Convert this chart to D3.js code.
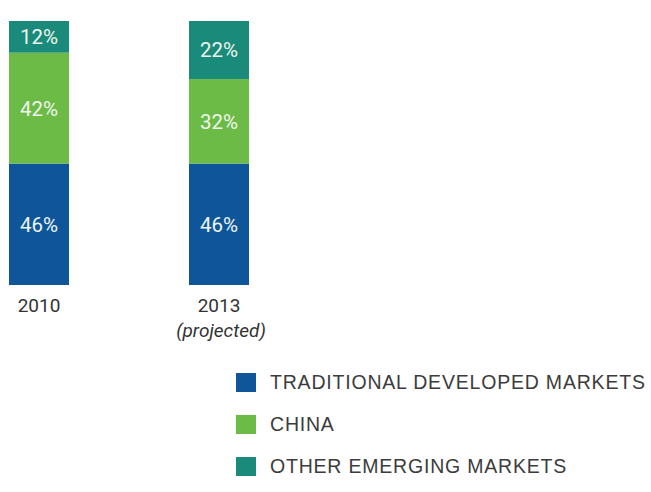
<!DOCTYPE html>
<html>
	<head>
		<title>Market share</title>
		<script src="https://d3js.org/d3.v7.min.js"></script>
		<style>
			body { margin: 0; background: #fff; }
			.seg-label { fill: #eef5ee; font-family: Roboto, "Liberation Sans", sans-serif; font-size: 20.5px; text-anchor: middle; }
			.year { fill: #333; font-family: Roboto, "Liberation Sans", sans-serif; font-size: 19px; text-anchor: middle; }
			.legend text { fill: #3c3c3c; font-family: "Liberation Sans", Arial, sans-serif; font-size: 19.5px; letter-spacing: 0.8px; }
		</style>
	</head>
	<body>
		<div class="chart"></div>
		<script>
			// data
			var years = ["2010", "2013"];
			var yearNotes = ["", "(projected)"];
			var seriesNames = ["TRADITIONAL DEVELOPED MARKETS", "CHINA", "OTHER EMERGING MARKETS"];
			var developed = [46, 46];
			var china = [42, 32];
			var otherEmerging = [12, 22];
			var colors = ["#0f559a", "#6cbb46", "#1a8a7a"];

			var width = 651, height = 492;

			var svg = d3.select(".chart").append("svg")
				.attr("width", width)
				.attr("height", height);

			var x = d3.scaleBand()
				.domain(years)
				.range([9, 249])
				.paddingInner(2 / 3)
				.paddingOuter(0);

			var y = d3.scaleLinear()
				.domain([0, 100])
				.range([285, 21]);

			var rows = years.map(function(yr, i) {
				return { year: yr, developed: developed[i], china: china[i], other: otherEmerging[i] };
			});

			var stack = d3.stack().keys(["developed", "china", "other"]);
			var layers = stack(rows);

			var groups = svg.selectAll("g.layer")
				.data(layers)
				.enter().append("g")
				.attr("class", "layer")
				.attr("fill", function(d, i) { return colors[i]; });

			groups.selectAll("rect")
				.data(function(d) { return d; })
				.enter().append("rect")
				.attr("x", function(d) { return x(d.data.year); })
				.attr("y", function(d) { return y(d[1]); })
				.attr("width", x.bandwidth())
				.attr("height", function(d) { return y(d[0]) - y(d[1]); });

			groups.selectAll("text")
				.data(function(d) { return d; })
				.enter().append("text")
				.attr("class", "seg-label")
				.attr("x", function(d) { return x(d.data.year) + x.bandwidth() / 2; })
				.attr("y", function(d) { return (y(d[0]) + y(d[1])) / 2; })
				.attr("dy", "0.36em")
				.text(function(d) { return (d[1] - d[0]) + "%"; });

			// year labels under the bars
			svg.selectAll("text.year")
				.data(years)
				.enter().append("text")
				.attr("class", "year")
				.attr("x", function(d) { return x(d) + x.bandwidth() / 2; })
				.attr("y", y(0) + 27)
				.text(function(d) { return d; });

			svg.selectAll("text.note")
				.data(years)
				.enter().append("text")
				.attr("class", "year")
				.attr("x", function(d) { return x(d) + x.bandwidth() / 2 + 2; })
				.attr("y", y(0) + 52)
				.style("font-style", "italic")
				.text(function(d, i) { return yearNotes[i]; });

			// legend
			var legend = svg.append("g")
				.attr("class", "legend")
				.attr("transform", "translate(236,373)");

			var item = legend.selectAll("g")
				.data(seriesNames)
				.enter().append("g")
				.attr("transform", function(d, i) { return "translate(0," + (i * 42) + ")"; });

			item.append("rect")
				.attr("width", 20)
				.attr("height", 19)
				.attr("fill", function(d, i) { return colors[i]; });

			item.append("text")
				.attr("x", 34)
				.attr("y", 16)
				.text(function(d) { return d; });
		</script>
	</body>
</html>
